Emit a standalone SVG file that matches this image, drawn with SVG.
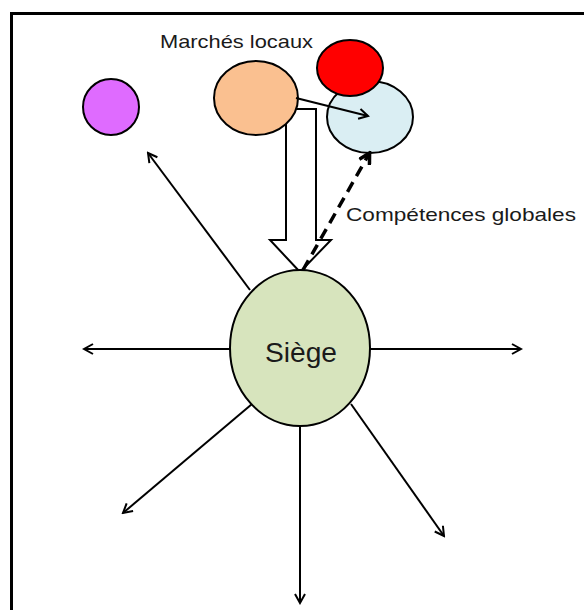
<svg xmlns="http://www.w3.org/2000/svg" width="584" height="610" viewBox="0 0 584 610">
<style>
.node{stroke:#000;stroke-width:2}
.conn{stroke:#000;stroke-width:2;fill:none}
.lbl{font-family:"Liberation Sans",Arial,sans-serif;fill:#1a1a1a}
</style>
<defs>
<marker id="open" viewBox="0 0 12 12" refX="10" refY="6" markerWidth="12" markerHeight="12" markerUnits="userSpaceOnUse" orient="auto">
<path d="M1,1 L10,6 L1,11" fill="none" stroke="#000" stroke-width="2"/>
</marker>
<marker id="dashhead" viewBox="0 0 12 12" refX="9" refY="6" markerWidth="14" markerHeight="14" markerUnits="userSpaceOnUse" orient="auto">
<path d="M1,1 L10,6 L1,11" fill="none" stroke="#000" stroke-width="3"/>
</marker>
</defs>
<rect x="11.5" y="13.5" width="700" height="700" fill="#fff" stroke="#000" stroke-width="3"/>
<g id="connectors">
<line class="conn" x1="250" y1="290" x2="148" y2="153" marker-end="url(#open)"/>
<line class="conn" x1="230" y1="349" x2="84" y2="349" marker-end="url(#open)"/>
<line class="conn" x1="370" y1="349" x2="521" y2="349" marker-end="url(#open)"/>
<line class="conn" x1="252" y1="404" x2="123" y2="513" marker-end="url(#open)"/>
<line class="conn" x1="300" y1="425" x2="300" y2="603" marker-end="url(#open)"/>
<line class="conn" x1="351" y1="404" x2="444" y2="536" marker-end="url(#open)"/>
<polygon id="block-arrow" points="286,109 316,109 316,240 331,240 300,272 270,240 286,240" fill="#fff" stroke="#000" stroke-width="2" stroke-linejoin="miter"/>
</g>
<g id="pink"><circle class="node" cx="111" cy="107" r="28" fill="#DF6BFF"/></g>
<g id="bleu"><ellipse class="node" cx="370" cy="117" rx="43" ry="36" fill="#DAEEF3"/></g>
<g id="rouge"><ellipse class="node" cx="350" cy="68" rx="33" ry="28" fill="#FF0000"/></g>
<g id="orange"><ellipse class="node" cx="256" cy="98" rx="42" ry="37" fill="#FAC090"/></g>
<g id="connectors-top">
<line class="conn" x1="296" y1="98" x2="368" y2="116" marker-end="url(#open)"/>
<line x1="303" y1="270" x2="369" y2="154" stroke="#000" stroke-width="3.5" stroke-dasharray="11,7" marker-end="url(#dashhead)"/>
</g>
<g id="siege">
<ellipse class="node" cx="300" cy="348" rx="70" ry="78" fill="#D7E4BD"/>
<text class="lbl" x="301" y="362" font-size="27" text-anchor="middle" textLength="72" lengthAdjust="spacingAndGlyphs">Siège</text>
</g>
<g id="labels">
<text class="lbl" x="160" y="48" font-size="19" textLength="153" lengthAdjust="spacingAndGlyphs">Marchés locaux</text>
<text class="lbl" x="346" y="221" font-size="19" textLength="230" lengthAdjust="spacingAndGlyphs">Compétences globales</text>
</g>
</svg>
